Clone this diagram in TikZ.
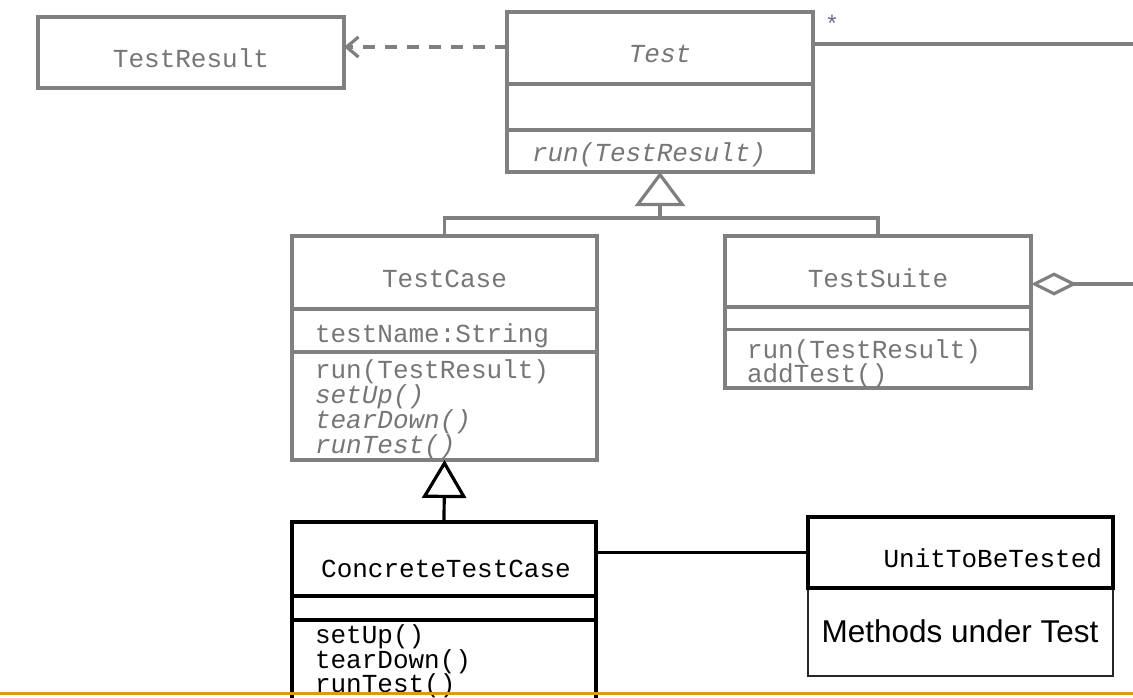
\documentclass[tikz,border=0pt]{standalone}
\usepackage{fontspec}
\setmonofont{Liberation Mono}
\setsansfont{Liberation Sans}
\usetikzlibrary{arrows.meta,calc}
\definecolor{umlgray}{RGB}{128,128,128}
\definecolor{umltext}{RGB}{118,118,118}
\definecolor{rulegold}{RGB}{212,158,16}
\begin{document}
\begin{tikzpicture}[x=1pt,y=-1pt,
  graybox/.style={draw=umlgray,line width=3.2pt,inner sep=0,outer sep=0},
  blackbox/.style={draw=black,line width=3.2pt,inner sep=0,outer sep=0},
  thinbox/.style={draw=black!85,line width=1.4pt,inner sep=0,outer sep=0},
  gline/.style={draw=umlgray,line width=3.2pt},
  bline/.style={draw=black,line width=3.2pt},
  gtxt/.style={inner sep=0,outer sep=0,text=umltext,font=\ttfamily\fontsize{26}{26}\selectfont},
  btxt/.style={gtxt,text=black},
]
\useasboundingbox (0,0) rectangle (1133,698);
\clip (0,0) rectangle (1133,698);
\fill[white] (0,0) rectangle (1133,698);

% TestResult
\node[graybox,minimum width=306pt,minimum height=71pt,anchor=north west] (tr) at (38,17) {};
\node[gtxt,anchor=base] (trl) at (191,68) {TestResult};

% Test
\node[graybox,minimum width=306pt,minimum height=160pt,anchor=north west] (test) at (507,12) {};
\draw[gline] ($(test.north west)+(0,72)$) -- ($(test.north east)+(0,72)$);
\draw[gline] ($(test.north west)+(0,118)$) -- ($(test.north east)+(0,118)$);
\node[gtxt,anchor=base] (testl) at (660,63) {\itshape Test};
\node[gtxt,anchor=base west] (testm) at (532,162) {\itshape run(TestResult)};
\node[inner sep=0,text=umlgray!85!blue,font=\ttfamily\fontsize{24}{24}\selectfont] (star) at (832,24) {*};

% TestCase
\node[graybox,minimum width=305pt,minimum height=224pt,anchor=north west] (tc) at (292,236) {};
\draw[gline] ($(tc.north west)+(0,73)$) -- ($(tc.north east)+(0,73)$);
\draw[gline] ($(tc.north west)+(0,116)$) -- ($(tc.north east)+(0,116)$);
\node[gtxt,anchor=base] (tcl) at (444.5,287) {TestCase};
\node[gtxt,anchor=base west] (tca) at (315,342) {testName:String};
\node[gtxt,anchor=base west] (tcm1) at (315,378) {run(TestResult)};
\node[gtxt,anchor=base west] (tcm2) at (315,403) {\itshape setUp()};
\node[gtxt,anchor=base west] (tcm3) at (315,428) {\itshape tearDown()};
\node[gtxt,anchor=base west] (tcm4) at (315,453) {\itshape runTest()};

% TestSuite
\node[graybox,minimum width=306pt,minimum height=152pt,anchor=north west] (ts) at (725,236) {};
\draw[gline] ($(ts.north west)+(0,71)$) -- ($(ts.north east)+(0,71)$);
\draw[gline] ($(ts.north west)+(0,93.5)$) -- ($(ts.north east)+(0,93.5)$);
\node[gtxt,anchor=base] (tsl) at (878,287) {TestSuite};
\node[gtxt,anchor=base west] (tsm1) at (747,358) {run(TestResult)};
\node[gtxt,anchor=base west] (tsm2) at (747,382) {addTest()};

% ConcreteTestCase
\node[blackbox,minimum width=304pt,minimum height=200pt,anchor=north] (ctc) at (444,522) {};
\draw[bline] ($(ctc.north west)+(0,74)$) -- ($(ctc.north east)+(0,74)$);
\draw[bline] ($(ctc.north west)+(0,98)$) -- ($(ctc.north east)+(0,98)$);
\node[btxt,anchor=base] (ctcl) at (446,577) {ConcreteTestCase};
\node[btxt,anchor=base west] (ctcm1) at (315,643) {setUp()};
\node[btxt,anchor=base west] (ctcm2) at (315,668) {tearDown()};
\node[btxt,anchor=base west] (ctcm3) at (315,692) {runTest()};

% UnitToBeTested
\node[thinbox,minimum width=305pt,minimum height=88pt,anchor=north west] (unitm) at (808,588) {};
\node[blackbox,minimum width=305pt,minimum height=71pt,anchor=north west] (unit) at (808,517) {};
\node[btxt,anchor=base east] (unitl) at (1102,567) {UnitToBeTested};
\node[inner sep=0,anchor=base,font=\sffamily\fontsize{31.5}{31.5}\selectfont] (mut) at (960,642) {Methods under Test};

% connectors
\coordinate (dep) at ($(test.north west)+(0,35)$);
\draw[gline,dash pattern=on 12pt off 10pt,-{Straight Barb[length=12pt,width=20pt]}] (dep) -- (dep -| tr.east);

\coordinate (assocEnd) at (1140,44);
\draw[gline] (assocEnd -| test.east) -- (assocEnd);

\coordinate (j) at (660,218);
\draw[gline] (tc.north) |- (j);
\draw[gline] (ts.north) |- (j);
\draw[gline,-{Triangle[open,length=34pt,width=50pt]}] (j) -- (test.south);

\coordinate (aggEnd) at (1140,284);
\draw[gline,{Diamond[open,length=46pt,width=23pt]}-] (aggEnd -| ts.east) -- (aggEnd);

\draw[bline,-{Triangle[open,length=38pt,width=44pt]}] (ctc.north) -- (tc.south);
\draw[bline] (unit.west) -- (unit.west -| ctc.east);

% bottom rule
\coordinate (goldL) at (0,693);
\coordinate (goldR) at (1133,693);
\draw[rulegold,line width=3pt] (goldL) -- (goldR);
\end{tikzpicture}
\end{document}
